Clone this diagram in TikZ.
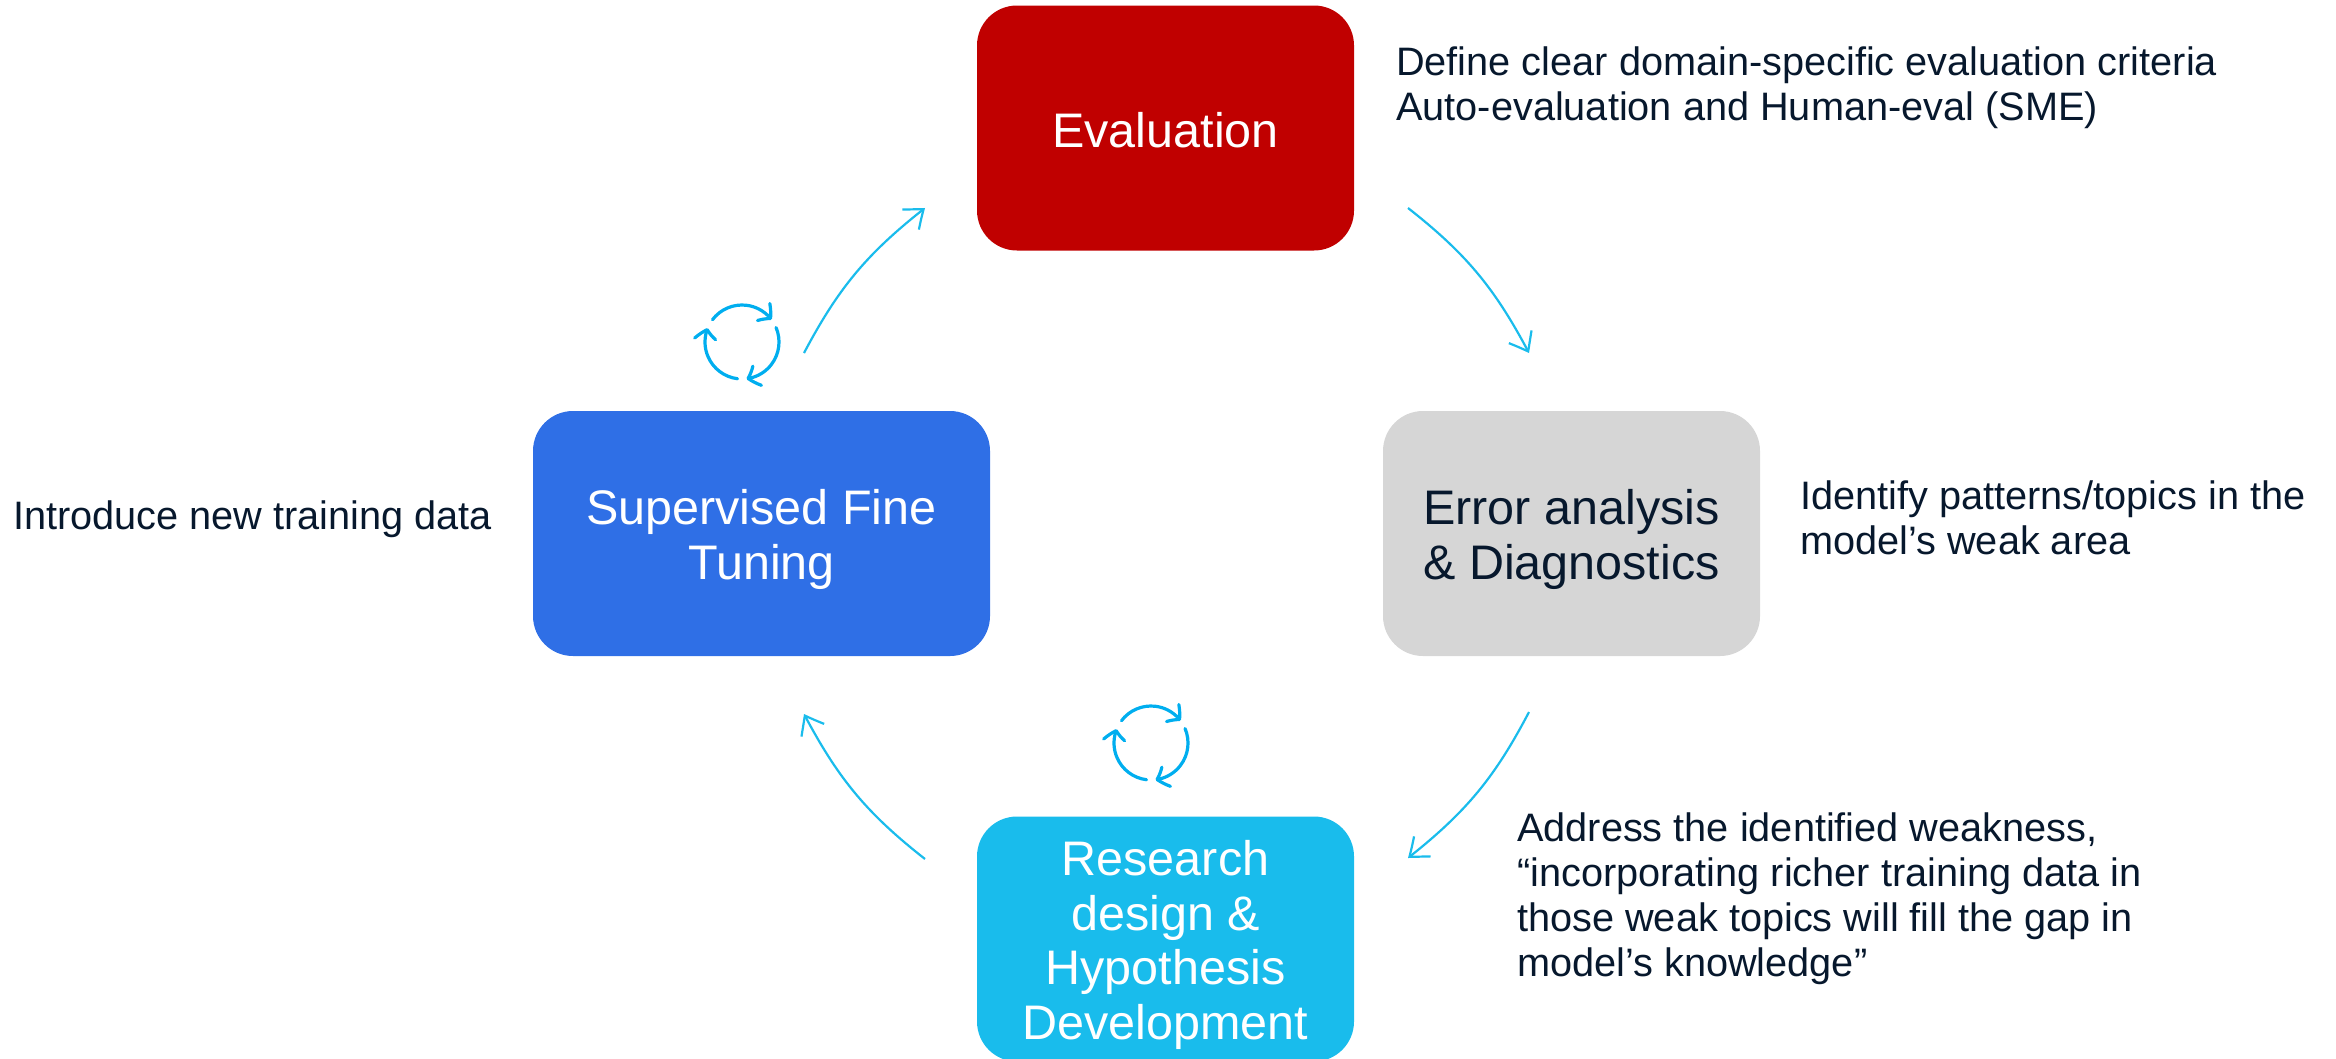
\documentclass[tikz,border=0pt]{standalone}
\usepackage{fontspec}
\setmainfont{Liberation Sans}
\usetikzlibrary{arrows.meta,bending}
\definecolor{evalred}{HTML}{C00000}
\definecolor{errgrey}{HTML}{D6D6D6}
\definecolor{tuneblue}{HTML}{2F6FE6}
\definecolor{rescyan}{HTML}{19BCEC}
\definecolor{inkdark}{HTML}{07182D}
\definecolor{flowcyan}{HTML}{1ABCEC}
\definecolor{iconcyan}{HTML}{00AEEF}
\newcommand{\dropline}[1]{\rule{0pt}{#1pt}}
\tikzset{
  phase/.style={rounded corners=40pt,inner sep=0pt,align=center,font=\fontsize{48.5}{54.5}\selectfont,text=white,minimum height=245pt,minimum width=377pt},
  note/.style={anchor=west,inner sep=0pt,align=left,text=inkdark,font=\fontsize{39.7}{45}\selectfont},
  flow/.style={draw=flowcyan,line width=2.2pt,-{Straight Barb[length=17pt,width=26pt,bend]}},
  spin/.style={draw=iconcyan,line width=3.2pt,line cap=round,-{Straight Barb[length=9.5pt,width=21pt,round,bend]}}
}
\begin{document}
\begin{tikzpicture}[x=1pt,y=-1pt]
\useasboundingbox (0,0) rectangle (2336,1058);
\clip (0,0) rectangle (2336,1058);
\node[phase,fill=evalred] (eval) at (1165.5,128) {\dropline{39}Evaluation};
\node[phase,fill=errgrey,text=inkdark] (err) at (1571.5,533.5) {\dropline{47}Error analysis\\\& Diagnostics};
\node[phase,fill=tuneblue,minimum width=457pt] (tune) at (761.5,533.5) {\dropline{47}Supervised Fine\\Tuning};
\node[phase,fill=rescyan] (res) at (1165.5,939) {\dropline{47}Research\\design \&\\Hypothesis\\Development};
\node[note] (n1) at (1396,87.5) {Define clear domain-specific evaluation criteria\\Auto-evaluation and Human-eval (SME)};
\node[note] (n2) at (1800,518) {Identify patterns/topics in the\\model’s weak area};
\node[note] (n3) at (13,519) {Introduce new training data};
\node[note] (n4) at (1517,899) {Address the identified weakness,\\“incorporating richer training data in\\those weak topics will fill the gap in\\model’s knowledge”};
\coordinate (a1s) at (1408,208); \coordinate (a1e) at (1529,353);
\coordinate (a2s) at (1529,712); \coordinate (a2e) at (1408,858);
\coordinate (a3s) at (925,859); \coordinate (a3e) at (804,714);
\coordinate (a4s) at (804,353); \coordinate (a4e) at (925,208);
\draw[flow] (a1s) to[bend left=12] (a1e);
\draw[flow] (a2s) to[bend left=12] (a2e);
\draw[flow] (a3s) to[bend left=12] (a3e);
\draw[flow] (a4s) to[bend left=12] (a4e);
\coordinate (ic1) at (742,342);
\coordinate (ic2) at (1151,743);
\foreach \c in {ic1,ic2}{
  \draw[spin] (\c) ++(143:37 and -37) arc[start angle=-143,end angle=-37,radius=37];
  \draw[spin] (\c) ++(23:37 and -37) arc[start angle=-23,end angle=83,radius=37];
  \draw[spin] (\c) ++(-97:37 and -37) arc[start angle=97,end angle=202,radius=37];
}
\end{tikzpicture}
\end{document}
